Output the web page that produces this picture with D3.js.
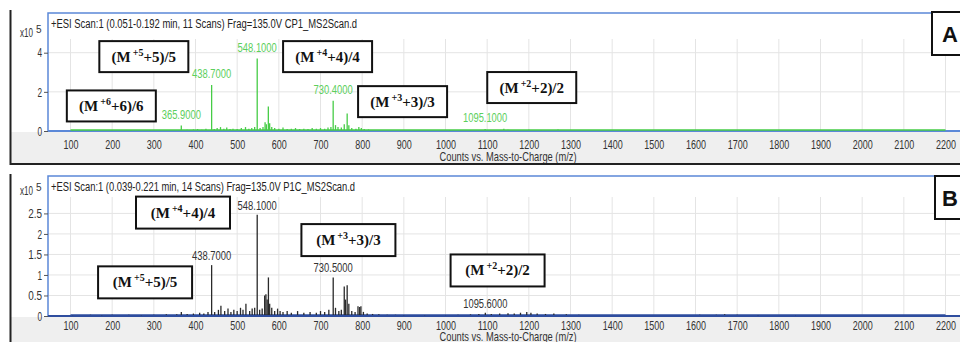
<!DOCTYPE html>
<html>
<head>
<meta charset="utf-8">
<script src="https://d3js.org/d3.v7.min.js"></script>
<style>
  body { margin: 0; background: #fff; }
  svg { display: block; }
</style>
</head>
<body>
<svg id="chart"></svg>
<script>
// Main chart file - two MS2 spectra stacked (A = CP1, B = P1C)

// m/z ticks, shared by both panels
var mzTicks = [100, 200, 300, 400, 500, 600, 700, 800, 900, 1000, 1100,
  1200, 1300, 1400, 1500, 1600, 1700, 1800, 1900, 2000, 2100, 2200];

// Panel A peaks: [m/z, counts x10^5]
var peaksA = [
  [105, 0.03], [150, 0.03], [200, 0.04], [245, 0.03], [290, 0.04], [330, 0.05],
  [365.9, 0.28], [380, 0.06], [395, 0.08], [405, 0.1], [415, 0.07], [425, 0.12],
  [438.7, 2.35], [445, 0.1], [452, 0.15], [460, 0.2], [468, 0.12], [475, 0.18],
  [483, 0.1], [490, 0.12], [500, 0.1], [510, 0.15], [520, 0.2], [528, 0.12],
  [535, 0.15], [542, 0.2], [548.1, 3.7], [555, 0.15], [562, 0.2], [567, 0.45],
  [570, 0.35], [574.8, 1.25], [578, 0.4], [583, 0.2], [590, 0.15], [600, 0.12],
  [610, 0.18], [620, 0.1], [630, 0.12], [640, 0.15], [650, 0.1], [660, 0.12],
  [670, 0.1], [680, 0.15], [690, 0.12], [700, 0.15], [710, 0.12], [718, 0.18],
  [725, 0.2], [730.4, 1.55], [736, 0.3], [742, 0.2], [750, 0.18], [757, 0.35],
  [764, 0.9], [768, 0.3], [775, 0.15], [785, 0.12], [792, 0.2], [798, 0.15],
  [805, 0.1], [815, 0.08], [830, 0.05], [1010, 0.03], [1060, 0.04], [1095.1, 0.1],
  [1140, 0.12], [1150, 0.06], [1200, 0.07], [1230, 0.04], [1270, 0.08]
];
var labeledA = [365.9, 438.7, 548.1, 730.4, 1095.1];
var yTicksA = [0, 2, 4];
// charge state annotations, placed in data units [charge, m/z, counts]
var annotA = [[5, 276, 3.8], [6, 198, 1.28], [4, 717, 3.8], [3, 897, 1.5], [2, 1207, 2.22]];

// Panel B peaks: [m/z, counts x10^5]
var peaksB = [
  [105, 0.02], [148, 0.03], [175, 0.02], [200, 0.03], [240, 0.03], [270, 0.02],
  [300, 0.03], [330, 0.04], [355, 0.04], [366, 0.1], [380, 0.05], [395, 0.06],
  [410, 0.08], [420, 0.06], [430, 0.1], [438.7, 1.24], [446, 0.1], [455, 0.15],
  [461, 0.25], [470, 0.12], [478, 0.18], [485, 0.1], [492, 0.15], [500, 0.12],
  [508, 0.2], [514, 0.15], [521, 0.3], [530, 0.12], [536, 0.18], [542, 0.2],
  [548.1, 2.47], [554, 0.15], [560, 0.18], [566, 0.5], [569, 0.53], [572, 0.4],
  [575, 0.94], [578, 0.3], [583, 0.2], [590, 0.12], [597, 0.18], [603, 0.12],
  [610, 0.1], [620, 0.12], [630, 0.08], [645, 0.12], [660, 0.08], [675, 0.1],
  [690, 0.08], [700, 0.12], [710, 0.1], [720, 0.15], [730.5, 0.94], [736, 0.2],
  [744, 0.12], [750, 0.15], [757, 0.72], [760, 0.4], [764, 0.75], [768, 0.3],
  [775, 0.12], [783, 0.1], [790, 0.24], [794, 0.22], [797, 0.24], [803, 0.1],
  [812, 0.06], [825, 0.05], [840, 0.04], [860, 0.03], [880, 0.03], [900, 0.02],
  [950, 0.02], [1000, 0.02], [1030, 0.03], [1060, 0.04], [1080, 0.05], [1095.6, 0.08],
  [1110, 0.05], [1130, 0.06], [1150, 0.07], [1165, 0.06], [1180, 0.08], [1195, 0.1],
  [1205, 0.08], [1220, 0.06], [1240, 0.05], [1260, 0.06], [1290, 0.04], [1320, 0.03],
  [1610, 0.03], [1650, 0.03], [1670, 0.04], [1700, 0.03], [1750, 0.02], [1840, 0.02]
];
var labeledB = [438.7, 548.1, 730.5, 1095.6];
var yTicksB = [0, 0.5, 1, 1.5, 2, 2.5];
var annotB = [[4, 370, 2.52], [5, 279, 0.82], [3, 767, 1.85], [2, 1125, 1.11]];

var svg = d3.select('#chart').attr('width', 960).attr('height', 342);
var narrow = "'Liberation Sans Narrow', 'Arial Narrow', 'Liberation Sans', sans-serif";
var numFmt = d3.format('~g');

// x scale is the same for both panels
var x = d3.scaleLinear().domain([100, 2200]).range([70.5, 945.5]);

function drawPanel(p)
{
  var g = svg.append('g');
  var y = d3.scaleLinear().domain([0, p.yMax]).range([p.axisY, p.gridTop]);

  // grey strip under the plot
  g.append('rect')
      .attr('x', 11).attr('y', p.axisY + 1)
      .attr('width', 949).attr('height', p.bottom - p.axisY - 1)
      .attr('fill', '#efefef');

  // grid
  g.selectAll('.vgrid').data(mzTicks).enter()
      .append('line')
      .attr('x1', function (d) { return x(d); })
      .attr('x2', function (d) { return x(d); })
      .attr('y1', p.gridTop).attr('y2', p.axisY)
      .attr('stroke', '#e4e4e4');
  g.selectAll('.hgrid').data(p.yTicks.slice(1)).enter()
      .append('line')
      .attr('x1', 48).attr('x2', 960)
      .attr('y1', function (d) { return y(d); })
      .attr('y2', function (d) { return y(d); })
      .attr('stroke', '#e4e4e4');

  // blue plot border
  g.append('path')
      .attr('d', 'M48,' + p.axisY + 'V' + p.top + 'H960')
      .attr('fill', 'none').attr('stroke', '#5b88d8').attr('stroke-width', 1.5);
  g.append('line')
      .attr('x1', 48).attr('x2', 960).attr('y1', p.axisY).attr('y2', p.axisY)
      .attr('stroke', p.axisColor).attr('stroke-width', 2);

  // x axis labels
  var xa = g.append('g')
      .attr('transform', 'translate(0,' + p.axisY + ')')
      .call(d3.axisBottom(x).tickValues(mzTicks).tickFormat(numFmt)
        .tickSize(0).tickPadding(p.xPad));
  xa.select('.domain').remove();
  xa.selectAll('text')
      .attr('font-family', narrow).attr('font-size', 13).attr('fill', '#333')
      .attr('textLength', function (d) { return numFmt(d).length * 5; })
      .attr('lengthAdjust', 'spacingAndGlyphs');

  // y axis
  var ya = g.append('g')
      .attr('transform', 'translate(48,0)')
      .call(d3.axisLeft(y).tickValues(p.yTicks).tickFormat(numFmt)
        .tickSize(4).tickPadding(2));
  ya.select('.domain').remove();
  ya.selectAll('line').attr('stroke', '#555');
  ya.selectAll('text')
      .attr('font-family', narrow).attr('font-size', 13).attr('fill', '#333')
      .attr('textLength', function (d) { return numFmt(d).length * 4.6; })
      .attr('lengthAdjust', 'spacingAndGlyphs');

  // x10^5
  var ex = g.append('text').attr('x', 20).attr('y', p.gridTop - 2)
      .attr('font-family', narrow).attr('font-size', 12).attr('fill', '#333');
  ex.append('tspan').attr('textLength', 13).attr('lengthAdjust', 'spacingAndGlyphs').text('x10');
  ex.append('tspan').attr('dx', 3).attr('dy', -4).attr('font-size', 10).text('5');

  // baseline + peaks
  g.append('line')
      .attr('x1', x(100)).attr('x2', x(2200))
      .attr('y1', p.axisY - 1).attr('y2', p.axisY - 1)
      .attr('stroke', p.baseColor).attr('stroke-width', 1.5);
  g.selectAll('.peak').data(p.peaks).enter()
      .append('line')
      .attr('x1', function (d) { return x(d[0]); })
      .attr('x2', function (d) { return x(d[0]); })
      .attr('y1', p.axisY - 1)
      .attr('y2', function (d) { return y(d[1]); })
      .attr('stroke', p.color).attr('stroke-width', 1.3);

  // peak labels
  var fmt = d3.format('.4f');
  g.selectAll('.plabel').data(p.labeled).enter()
      .append('text')
      .attr('x', function (d) { return x(d); })
      .attr('y', function (d) {
        var pk = p.peaks.find(function (q) { return q[0] === d; });
        return y(pk[1]) - p.labelGap;
      })
      .attr('text-anchor', 'middle')
      .attr('font-family', narrow).attr('font-size', 12).attr('fill', p.labelColor)
      .attr('textLength', function (d) { return fmt(d).length * 4.9; })
      .attr('lengthAdjust', 'spacingAndGlyphs')
      .text(function (d) { return fmt(d); });

  // scan title and axis title
  g.append('text').attr('x', 51).attr('y', p.top + 15)
      .attr('font-family', narrow).attr('font-size', 12).attr('fill', '#222')
      .attr('textLength', p.titleLen).attr('lengthAdjust', 'spacingAndGlyphs')
      .text(p.title);
  g.append('text').attr('x', 508).attr('y', p.axisY + p.titleOff)
      .attr('text-anchor', 'middle')
      .attr('font-family', narrow).attr('font-size', 13).attr('fill', '#333')
      .attr('textLength', 137).attr('lengthAdjust', 'spacingAndGlyphs')
      .text('Counts vs. Mass-to-Charge (m/z)');

  // charge state boxes
  var boxes = g.selectAll('.annot').data(p.annot).enter().append('g')
      .attr('transform', function (d) { return 'translate(' + x(d[1]) + ',' + y(d[2]) + ')'; });
  boxes.append('rect')
      .attr('x', -p.boxW / 2).attr('y', -p.boxH / 2)
      .attr('width', p.boxW).attr('height', p.boxH)
      .attr('fill', '#fff').attr('stroke', '#111').attr('stroke-width', 2);
  var t = boxes.append('text')
      .attr('y', 5).attr('text-anchor', 'middle')
      .attr('font-family', "'Liberation Serif', 'Times New Roman', serif")
      .attr('font-weight', 'bold').attr('font-size', 15).attr('fill', '#111');
  t.append('tspan').text('(M');
  t.append('tspan').attr('dx', 2).attr('dy', -6).attr('font-size', 10)
      .text(function (d) { return '+' + d[0]; });
  t.append('tspan').attr('dy', 6)
      .text(function (d) { return '+' + d[0] + ')/' + d[0]; });

  // panel letter
  g.append('rect')
      .attr('x', p.letterX).attr('y', p.letterY)
      .attr('width', 40).attr('height', p.letterH)
      .attr('fill', '#fff').attr('stroke', '#111').attr('stroke-width', 2);
  g.append('text')
      .attr('x', 942).attr('y', p.letterY + p.letterH / 2 + 8)
      .attr('font-family', "'Liberation Sans', Arial, sans-serif")
      .attr('font-weight', 'bold').attr('font-size', 22).attr('fill', '#111')
      .text(p.letter);

  // outer frame
  g.append('path')
      .attr('d', 'M10.5,' + p.frameTop + 'V' + p.bottom + 'H960')
      .attr('fill', 'none').attr('stroke', '#222').attr('stroke-width', 2);
}

drawPanel({
  top: 13, gridTop: 39, axisY: 131, bottom: 164, frameTop: 10, yMax: 4.7,
  yTicks: yTicksA, peaks: peaksA, labeled: labeledA, annot: annotA,
  color: '#46cc46', labelColor: '#5ccf5c', baseColor: '#46cc46', axisColor: '#5b88d8',
  labelGap: 7, xPad: 9, titleOff: 30, boxW: 89, boxH: 31,
  title: '+ESI Scan:1 (0.051-0.192 min, 11 Scans) Frag=135.0V CP1_MS2Scan.d', titleLen: 306,
  letter: 'A', letterX: 932, letterY: 12, letterH: 43
});

drawPanel({
  top: 176, gridTop: 197, axisY: 316, bottom: 350, frameTop: 174, yMax: 2.9,
  yTicks: yTicksB, peaks: peaksB, labeled: labeledB, annot: annotB,
  color: '#2a2a2a', labelColor: '#333', baseColor: '#2e4d9e', axisColor: '#2e4d9e',
  labelGap: 5, xPad: 5, titleOff: 25, boxW: 94, boxH: 32,
  title: '+ESI Scan:1 (0.039-0.221 min, 14 Scans) Frag=135.0V P1C_MS2Scan.d', titleLen: 304,
  letter: 'B', letterX: 935, letterY: 176, letterH: 43
});
</script>
</body>
</html>
